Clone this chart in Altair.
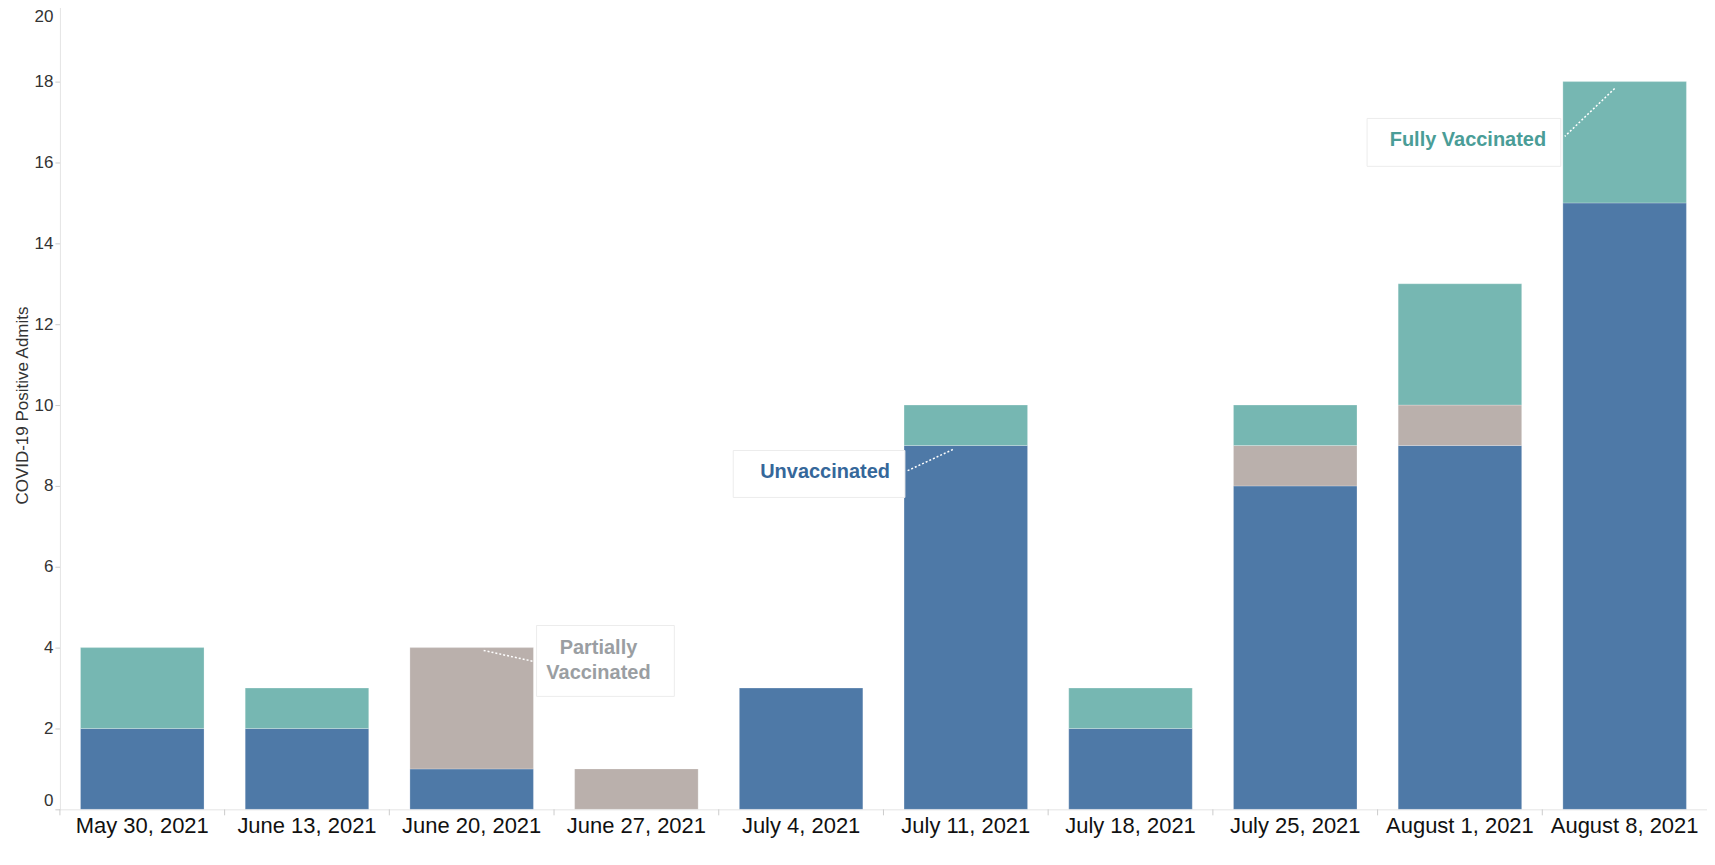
import altair as alt
import pandas as pd

# ---- data ----
dates = ["May 30, 2021", "June 13, 2021", "June 20, 2021", "June 27, 2021", "July 4, 2021",
         "July 11, 2021", "July 18, 2021", "July 25, 2021", "August 1, 2021", "August 8, 2021"]
unvaccinated = [2, 2, 1, 0, 3, 9, 2, 8, 9, 15]
partially = [0, 0, 3, 1, 0, 0, 0, 1, 1, 0]
fully = [2, 1, 0, 0, 0, 1, 1, 1, 3, 3]
statuses = ["Unvaccinated", "Partially Vaccinated", "Fully Vaccinated"]
y_ticks = [0, 2, 4, 6, 8, 10, 12, 14, 16, 18, 20]

# annotation anchors (category, value)
ann_labels = ["Unvaccinated", "Partially\nVaccinated", "Fully Vaccinated"]
ann_dates = ["July 11, 2021", "June 20, 2021", "August 8, 2021"]
ann_values = [8.9, 3.93, 17.83]

# ---- styles / layout ----
colors = ["#4e79a7", "#bab0ac", "#76b7b2"]
ann_colors = ["#35679a", "#9a9ea2", "#4a9d97"]
FONT = "Liberation Sans"
W, H = 1650, 810
STEP = W / len(dates)
# per-annotation pixel layout: anchor x shift, leader end (dx,dy), box center (dx,dy,w,h), text center (dx,dy)
ann_layout = [
    dict(ax=-13, line=(-47, 22), box=(-134, 24.5, 172, 47), txt=(-128, 23)),
    dict(ax=12, line=(50, 11), box=(122, 10.5, 138, 71), txt=(115, 10)),
    dict(ax=-10, line=(-50, 48), box=(-151, 54, 194, 48), txt=(-147, 52)),
]

rows = []
for i, d in enumerate(dates):
    for k, (s, vals) in enumerate(zip(statuses, [unvaccinated, partially, fully])):
        if vals[i] > 0:
            rows.append({"date": d, "status": s, "count": vals[i], "order": k})
df = pd.DataFrame(rows)

x_enc = alt.X("date:N", sort=dates,
              scale=alt.Scale(paddingInner=0.25, paddingOuter=0.125),
              axis=alt.Axis(title=None, labelAngle=0, labelFontSize=22, labelColor="#111111",
                            labelFont=FONT, ticks=False, labelPadding=6,
                            domainColor="#e4e4e4"))

bars = alt.Chart(df).mark_bar(stroke="#ffffff", strokeOpacity=0.25, strokeWidth=1).encode(
    x=x_enc,
    y=alt.Y("count:Q", stack="zero",
            scale=alt.Scale(domain=[0, 20], nice=False),
            axis=alt.Axis(values=y_ticks, title="COVID-19 Positive Admits", labelFlush=True,
                          labelOffset={"condition": {"test": "datum.value == 20", "value": 8},
                                       "value": 0},
                          labelFontSize=17, labelColor="#333333", labelFont=FONT,
                          tickColor="#cccccc", tickSize=5, labelPadding=2,
                          domainColor="#e4e4e4", grid=False,
                          titleFontSize=17, titleFontWeight="normal", titleColor="#333333",
                          titleFont=FONT, titlePadding=3)),
    color=alt.Color("status:N", scale=alt.Scale(domain=statuses, range=colors), legend=None),
    order=alt.Order("order:Q"),
)

tick_df = pd.DataFrame({"date": dates})
ticks = alt.Chart(tick_df).mark_rule(color="#cccccc", strokeWidth=1, xOffset=-STEP / 2).encode(
    x=alt.X("date:N", sort=dates),
    y=alt.value(H), y2=alt.value(H + 6),
)

layers = [bars, ticks]
for lab, d, v, col, lay in zip(ann_labels, ann_dates, ann_values, ann_colors, ann_layout):
    adf = pd.DataFrame({"date": [d], "value": [v], "label": [lab]})
    base = alt.Chart(adf).encode(x=alt.X("date:N", sort=dates), y=alt.Y("value:Q"))
    ax = lay["ax"]
    lx, ly = lay["line"]
    k = 50.0
    line_path = f"M0,0L{lx / k:.4f},{ly / k:.4f}"
    leader = base.mark_point(shape=line_path, size=(2 * k) ** 2, filled=False, opacity=1,
                             stroke="#ffffff", strokeWidth=1.5, strokeDash=[2, 2],
                             xOffset=ax)
    bx, by, bw, bh = lay["box"]
    r = bh / bw
    box_path = f"M-1,{-r:.4f}L1,{-r:.4f}L1,{r:.4f}L-1,{r:.4f}Z"
    box = base.mark_point(shape=box_path, size=bw ** 2, filled=True, opacity=1,
                          fill="#ffffff", stroke="#ececec", strokeWidth=1,
                          xOffset=ax + bx, yOffset=by)
    tx, ty = lay["txt"]
    n_lines = lab.count("\n") + 1
    text = base.mark_text(align="center", baseline="middle", font=FONT, fontSize=20,
                          fontWeight="bold", color=col, lineBreak="\n", lineHeight=25,
                          dx=ax + tx, dy=ty - (n_lines - 1) * 12.5).encode(text="label:N")
    layers += [leader, box, text]

chart = alt.layer(*layers).properties(
    width=W, height=H,
    autosize=alt.AutoSizeParams(type="none"),
    padding={"left": 52, "top": -8, "right": 0, "bottom": 47},
    background="#ffffff",
).configure_view(stroke=None)

chart.save("out.html", embed_options={"renderer": "svg", "actions": False})
